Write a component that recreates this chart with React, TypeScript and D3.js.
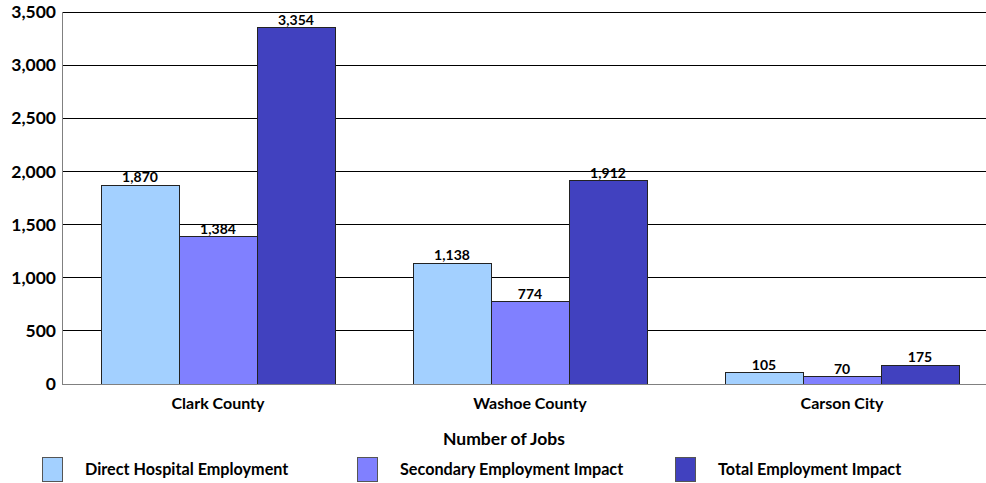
import React from "react";
import * as d3 from "d3";

const categories = ["Clark County", "Washoe County", "Carson City"];
const seriesNames = ["Direct Hospital Employment", "Secondary Employment Impact", "Total Employment Impact"];
const direct = [1870, 1138, 105];
const secondary = [1384, 774, 70];
const total = [3354, 1912, 175];
const yTicks = [0, 500, 1000, 1500, 2000, 2500, 3000, 3500];
const colors = ["#A3D0FF", "#8080FF", "#4141BF"];

const W = 986, H = 483;
const left = 62, right = 998, top = 12, bottom = 384;
const font = "Lato, 'Open Sans', sans-serif";

export default function App() {
  const series = [direct, secondary, total];
  const x = d3.scaleBand<string>().domain(categories).range([left, right]).paddingInner(0.25).paddingOuter(0.125);
  const xs = d3.scaleBand<string>().domain(seriesNames).range([0, x.bandwidth()]);
  const y = d3.scaleLinear().domain([0, 3500]).range([bottom, top]);
  const fmt = d3.format(",");
  const legendX = [42, 357, 675];
  return (
    <svg width={W} height={H} style={{ position: "absolute", left: 0, top: 0 }}>
      <rect width={W} height={H} fill="#fff" />
      {yTicks.filter(t => t > 0).map(t => (
        <line key={t} x1={left} x2={W} y1={y(t)} y2={y(t)} stroke="#000" strokeWidth={1} shapeRendering="crispEdges" />
      ))}
      {yTicks.map(t => (
        <text key={t} x={56} y={y(t)} dy="0.35em" textAnchor="end" fontFamily={font} fontWeight="bold" fontSize={17.5} fill="#000">{fmt(t)}</text>
      ))}
      {categories.map((c, ci) => (
        <g key={c}>
          {series.map((s, si) => {
            const bx = (x(c) as number) + (xs(seriesNames[si]) as number);
            return (
              <g key={si}>
                <rect x={bx} y={y(s[ci])} width={xs.bandwidth()} height={bottom - y(s[ci])} fill={colors[si]} stroke="#222" strokeWidth={1} shapeRendering="crispEdges" />
                <text x={bx + xs.bandwidth() / 2} y={y(s[ci]) - 3} textAnchor="middle" fontFamily={font} fontWeight="bold" fontSize={14} fill="#000">{fmt(s[ci])}</text>
              </g>
            );
          })}
          <text x={(x(c) as number) + x.bandwidth() / 2} y={409} textAnchor="middle" fontFamily={font} fontWeight="bold" fontSize={16} fill="#000">{c}</text>
        </g>
      ))}
      <line x1={left} x2={left} y1={top} y2={bottom} stroke="#808080" strokeWidth={1} shapeRendering="crispEdges" />
      <line x1={left} x2={W} y1={bottom} y2={bottom} stroke="#808080" strokeWidth={1} shapeRendering="crispEdges" />
      <text x={504} y={445} textAnchor="middle" fontFamily={font} fontWeight="bold" fontSize={17.5} fill="#000">Number of Jobs</text>
      {seriesNames.map((n, i) => (
        <g key={n}>
          <rect x={legendX[i]} y={457} width={20} height={24} fill={colors[i]} stroke="#555" strokeWidth={1} shapeRendering="crispEdges" />
          <text x={legendX[i] + 43} y={475} fontFamily={font} fontWeight="bold" fontSize={16.2} fill="#000">{n}</text>
        </g>
      ))}
    </svg>
  );
}
